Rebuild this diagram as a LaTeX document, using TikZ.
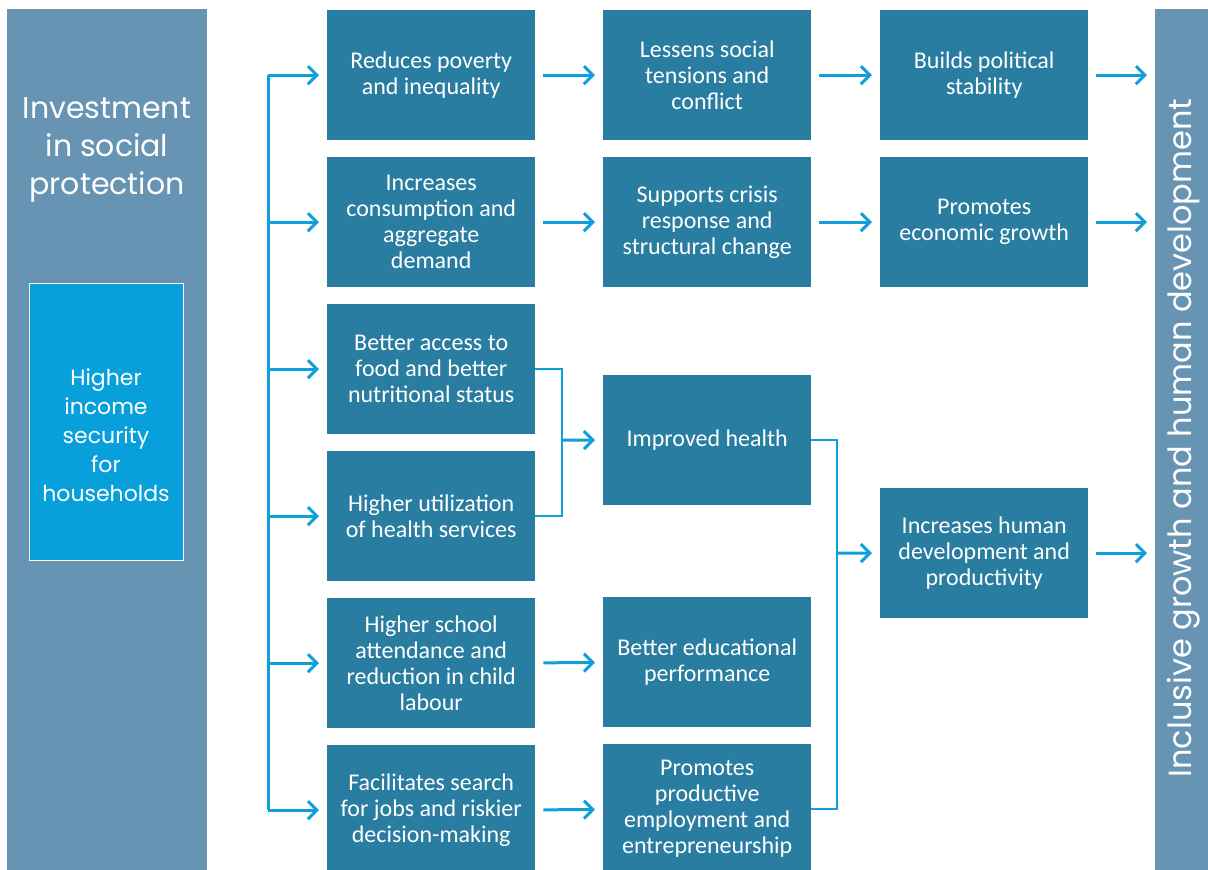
\documentclass[tikz,border=0pt]{standalone}
\usepackage{fontspec}
\setmainfont{Carlito}
\newfontfamily\gothic{Poppins}
\usetikzlibrary{arrows.meta,positioning}

\definecolor{panelblue}{HTML}{6894B4}
\definecolor{boxblue}{HTML}{297DA0}
\definecolor{brightblue}{HTML}{08A0DA}
\definecolor{linkblue}{HTML}{0FA0DC}

\begin{document}
\begin{tikzpicture}[x=1pt, y=-1pt,
  box/.style={fill=boxblue, text=white, minimum width=208pt, minimum height=130pt,
    inner sep=0pt, align=center, anchor=north west, font=\fontsize{24}{26}\selectfont},
  panel/.style={fill=panelblue, inner sep=0pt, anchor=north west},
  line/.style={draw=linkblue, line width=3pt},
  link/.style={line, shorten >=8pt, -{Straight Barb[length=9pt, width=18pt]}},
  gap/.style={shorten <=8pt}]

\useasboundingbox (0,0) rectangle (1208,870);

% side panels
\node [panel, minimum width=200pt, minimum height=861pt] (source) at (7,9) {};
\node [panel, minimum width=53pt, minimum height=861pt] (goal) at (1155,9) {};

\node [text=white, align=center, font=\gothic\fontsize{30}{38}\selectfont] (title)
  at (107,150) {Investment\\in social\\protection};
\node [fill=brightblue, draw=white, line width=1pt, minimum width=154pt,
  minimum height=277pt] (income) at (106,421.5) {};
\node [text=white, align=center, font=\gothic\fontsize{22}{29}\selectfont]
  at ([yshift=-14pt]income.center) {Higher\\income\\security\\for\\households};

\node [text=white, rotate=90, font=\gothic\fontsize{32}{36}\selectfont]
  at (1184,438) {Inclusive growth and human development};

% first column
\foreach \l [count=\r] in {{Reduces poverty\\and inequality},
    {Increases\\consumption and\\aggregate\\demand},
    {Better access to\\food and better\\nutritional status},
    {Higher utilization\\of health services},
    {Higher school\\attendance and\\reduction in child\\labour},
    {Facilitates search\\for jobs and riskier\\decision-making}}
  \node [box] (col1-\r) at (327,{10+147*(\r-1)}) {\l};

% second column
\foreach \r/\y/\l in {1/10/{Lessens social\\tensions and\\conflict},
    2/157/{Supports crisis\\response and\\structural change},
    3/375/{Improved health},
    5/597/{Better educational\\performance},
    6/744/{Promotes\\productive\\employment and\\entrepreneurship}}
  \node [box] (col2-\r) at (603,\y) {\l};

% third column
\foreach \r/\y/\l in {1/10/{Builds political\\stability},
    2/157/{Promotes\\economic growth},
    3/488/{Increases human\\development and\\productivity}}
  \node [box] (col3-\r) at (880,\y) {\l};

% connectors
\coordinate (bus) at (268,75);
\coordinate (join-1) at (562,440);
\coordinate (join-2) at (837,553);

\draw [line] (bus |- col1-1.west) -- (bus |- col1-6.west);
\foreach \r in {1,...,6}
  \draw [link] (bus |- col1-\r.west) -- (col1-\r.west);

\foreach \r in {1,2,5,6}
  \draw [link, gap] (col1-\r) -- (col2-\r);

\foreach \r in {1,2}
  \draw [link, gap] (col2-\r) -- (col3-\r);

\draw [line, line width=2.5pt] (col1-3.east) -| (join-1) |- (col1-4.east);
\draw [link] (join-1) -- (col2-3);

\draw [line, line width=2.5pt] (col2-3.east) -| (join-2) |- (col2-6.east);
\draw [link] (join-2) -- (col3-3);

\foreach \r in {1,2,3}
  \draw [link, gap] (col3-\r.east) -- (col3-\r.east -| goal.west);

\end{tikzpicture}
\end{document}
